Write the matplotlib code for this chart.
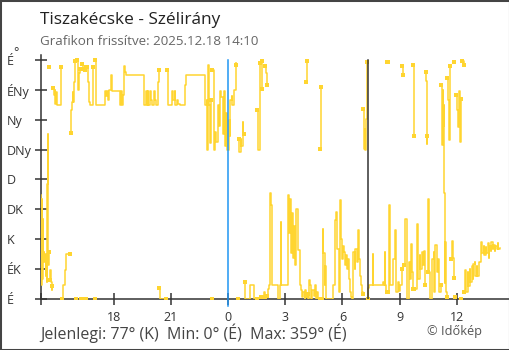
import numpy as np
import matplotlib
matplotlib.use('Agg')
import matplotlib.pyplot as plt
from matplotlib.patches import Rectangle

plt.rcParams['font.family'] = ['Open Sans', 'DejaVu Sans']

# time in hours counted from 00:00 of the previous day (24 = midnight)
hours = [
    14.19, 14.215, 14.236, 14.257, 14.278, 14.299, 14.33, 14.367, 14.404, 14.446,
    14.477, 14.509, 14.524, 14.54, 14.561, 14.587, 14.614, 14.629, 14.645, 14.676,
    14.708, 14.739, 14.771, 14.797,
    14.839, 14.876, 14.902, 14.939, 14.97, 15.007, 15.049, 15.259,
    15.295, 15.348, 15.437, 15.505, 15.731,
    15.746, 15.778, 15.82, 15.862, 15.893, 15.925, 15.961,
    16.03, 16.082, 16.113, 16.161, 16.213, 16.292, 16.36, 16.397, 16.449, 16.486,
    16.533, 16.58, 16.622, 16.675, 16.711, 16.753, 16.895, 16.921, 17.01, 17.042,
    17.089, 17.535, 17.561, 17.603, 17.655, 17.708, 17.76, 17.839, 17.907, 18.337,
    18.389, 18.442, 18.494, 18.547, 18.599, 18.636, 19.611, 19.674, 19.727, 19.779,
    19.831, 19.91, 19.963, 20.041, 20.12, 20.172, 20.225, 20.345, 20.382,
    20.403, 20.434, 20.775,
    20.796, 20.828, 20.88, 21.011, 21.064, 21.142, 21.195, 21.247, 21.326, 21.378,
    21.457, 21.745, 21.798, 22.778, 22.794, 22.873, 22.899, 22.951, 23.004, 23.056,
    23.109, 23.151,
    23.177, 23.24, 23.319, 23.397, 23.46, 23.518, 23.555, 23.607, 23.659, 23.722,
    23.791, 23.843, 23.895, 23.974, 24.027, 24.079, 24.131, 24.184, 24.236, 24.315,
    24.394, 24.446, 24.525,
    24.567, 24.603, 24.656, 24.708, 24.761, 24.813, 24.839,
    24.866, 24.908, 25.17, 25.259, 25.338, 25.521,
    25.537, 25.59, 25.668, 25.721, 25.768, 25.783, 25.825, 25.888, 25.941,
    25.956, 25.993, 26.03,
    26.045, 26.098, 26.15, 26.229, 26.271, 26.307, 26.57, 26.622, 26.701, 26.727,
    26.764, 26.79, 27.094, 27.147, 27.199, 27.251, 27.304, 27.356, 27.409, 27.461,
    27.514, 27.566, 27.645, 27.776, 27.854, 27.907, 27.959, 28.012, 28.064, 28.09,
    28.106, 28.132, 28.158,
    28.185, 28.221, 28.248, 28.3, 28.379, 28.431, 28.51, 28.588, 28.641, 28.693,
    28.746, 28.814,
    28.825, 28.861, 28.893,
    28.909, 28.956, 29.008, 29.061, 29.113, 29.139, 29.454, 29.506, 29.611, 29.664,
    29.742, 29.795, 29.873, 29.926, 29.978, 30.031, 30.083, 30.136, 30.188, 30.24,
    30.293, 30.345, 30.398, 30.45, 30.503, 30.555, 30.634, 30.686, 30.739, 30.818,
    30.87, 30.922, 30.975, 31.027, 31.08,
    31.096, 31.132, 31.159, 31.185, 31.211, 31.237, 31.264, 31.3,
    31.316, 31.342, 31.394, 31.578, 31.604, 32.024, 32.103, 32.181, 32.208, 32.234,
    32.286, 32.328,
    32.339, 32.391,
    32.407, 32.428, 32.47, 32.653, 32.679, 32.732, 32.758, 32.81, 32.889, 32.968,
    33.02, 33.099,
    33.136, 33.193,
    33.23, 33.298, 33.361, 33.466, 33.544, 33.597, 33.649, 33.702,
    33.717, 33.744,
    33.77, 33.896, 33.938, 33.99, 34.043, 34.095, 34.148, 34.2, 34.253, 34.315,
    34.368, 34.399, 34.425, 34.451,
    34.478, 34.504, 34.541, 34.619, 34.672, 34.724, 34.777, 34.829, 34.881, 34.96,
    35.013, 35.065, 35.144,
    35.17, 35.212, 35.249, 35.285, 35.317, 35.343, 35.359, 35.38, 35.432, 35.484,
    35.5, 35.537, 35.589, 35.626, 35.658,
    35.684, 35.747, 35.799, 35.852,
    35.867, 35.92, 35.957, 36.009, 36.062, 36.114, 36.167, 36.193, 36.235, 36.287,
    36.361,
    36.376, 36.429, 36.507, 36.56, 36.612, 36.665, 36.717, 36.77, 36.822, 36.874,
    36.927, 36.979, 37.032, 37.084, 37.137, 37.215, 37.283, 37.346, 37.399, 37.451,
    37.504, 37.556, 37.609, 37.661, 37.713, 37.766, 37.818, 37.871, 37.923, 37.976,
    38.028, 38.081, 38.133, 38.185, 38.248,
]

# wind direction in degrees
direction = [
    157, 21, 150, 30, 120, 60, 71, 56, 68, 35,
    60, 26, 173, 248, 89, 51, 71, 350, 29, 44,
    35, 26, 14, 20,
    318, 307, 315, 294, 312, 294, 292, 350,
    0, 21, 44, 68, 68,
    250, 285, 297, 312, 297, 327, 358,
    0, 360, 315, 340, 347, 0, 354, 347, 0, 345,
    350, 0, 350, 327, 297, 292, 292, 350, 0, 360,
    292, 292, 313, 305, 313, 300, 315, 337, 314, 292,
    314, 292, 308, 351, 342, 338, 292, 314, 292, 314,
    292, 314, 300, 292, 314, 300, 292, 327, 345,
    16, 0, 0,
    345, 307, 292, 292, 314, 300, 314, 292, 300, 294,
    292, 323, 338, 338, 292, 300, 224, 353, 292, 235,
    300, 0,
    345, 224, 251, 236, 292, 260, 300, 314, 304, 248,
    314, 230, 280, 224, 270, 245, 300, 305, 292, 315,
    355, 352, 0,
    241, 221, 241, 230, 266, 248, 249,
    25, 0, 21, 21, 0, 0,
    285, 224, 356, 3, 316, 359, 3, 10, 3,
    351, 341, 322,
    5, 15, 21, 159, 142, 21, 21, 0, 0, 21,
    116, 21, 21, 157, 100, 150, 70, 130, 62, 110,
    51, 135, 74, 21, 14, 3, 10, 0, 14, 5,
    327, 342, 358,
    8, 0, 29, 21, 0, 14, 5, 21, 0, 10,
    0, 0,
    226, 271, 319,
    0, 106, 70, 21, 50, 0, 0, 21, 119, 131,
    75, 11, 149, 90, 60, 80, 71, 51, 66, 45,
    60, 30, 10, 3, 0, 71, 45, 75, 56, 104,
    60, 35, 21, 10, 7,
    286, 226, 256, 224, 250, 271, 344, 357,
    0, 16, 21, 68, 21, 21, 25, 21, 71, 21,
    12, 10,
    357, 357,
    10, 141, 21, 21, 60, 89, 104, 10, 25, 12,
    21, 45,
    351, 338,
    51, 121, 0, 56, 30, 83, 40, 15,
    353, 245,
    15, 113, 60, 30, 66, 45, 71, 51, 73, 21,
    342, 329, 233, 246,
    41, 151, 41, 0, 10, 60, 71, 11, 81, 40,
    60, 11, 21,
    322, 232, 315, 260, 292, 160, 24, 86, 10, 3,
    333, 300, 240, 330, 351,
    60, 88, 62, 31,
    357, 3, 307, 285, 259, 314, 236, 301, 0, 358,
    352,
    11, 43, 10, 40, 20, 45, 25, 50, 30, 52,
    56, 35, 50, 35, 56, 56, 86, 70, 80, 66,
    78, 70, 84, 62, 80, 72, 86, 76, 82, 72,
    80, 76, 84, 76, 77,
]

y_ticks = [0, 45, 90, 135, 180, 225, 270, 315, 360]
y_labels = ['É', 'ÉK', 'K', 'DK', 'D', 'DNy', 'Ny', 'ÉNy', 'É']
x_ticks = [14.194, 18, 21, 24, 27, 30, 33, 36]
x_labels = ['', '18', '21', '0', '3', '6', '9', '12']
midnight = 24
sunrise = 31.34

yellow = '#FFD530'
dark = '#333333'

t = np.array(hours)
d = np.array(direction, dtype=float)

# break the line where the direction wraps around north
jump = np.abs(np.diff(d)) > 180
starts = np.r_[0, np.where(jump)[0] + 1]
ends = np.r_[np.where(jump)[0], len(d) - 1]

fig = plt.figure(figsize=(5.1, 3.5), dpi=100)
ax = fig.add_axes([41 / 510, 1 - 299 / 350, 468 / 510, 244 / 350])

for s, e in zip(starts, ends):
    ax.plot(t[s:e + 1], d[s:e + 1], drawstyle='steps-post', color=yellow, lw=1.1, zorder=3)

mk = np.r_[starts[1:], ends[:-1]]
ax.plot(t[mk], d[mk], 's', color=yellow, ms=2.6, mew=0, zorder=3)

ax.plot([midnight, midnight], [-10.5, 360], color='#2196F3', lw=1.1, zorder=4, clip_on=False)
ax.plot([sunrise, sunrise], [0, 360], color=dark, lw=1.1, zorder=4)

ax.set_xlim(14.194, 38.736)
ax.set_ylim(0, 367.5)
ax.set_xticks(x_ticks)
ax.set_xticklabels(x_labels)
ax.set_yticks(y_ticks)
ax.set_yticklabels(y_labels)
for lbl in ax.get_yticklabels():
    lbl.set_horizontalalignment('left')

ax.tick_params(axis='both', direction='inout', length=8.6, width=1.1, color=dark,
               labelcolor=dark, labelsize=9)
ax.tick_params(axis='y', pad=20.2)
ax.tick_params(axis='x', pad=4.2)
for side in ['top', 'right']:
    ax.spines[side].set_visible(False)
for side in ['left', 'bottom']:
    ax.spines[side].set_color(dark)
    ax.spines[side].set_linewidth(1.1)

fig.text(40 / 510, 1 - 19.5 / 350, 'Tiszakécske - Szélirány', fontsize=12.4,
         color='#222222', va='center', ha='left')
fig.text(40 / 510, 1 - 41.5 / 350, 'Grafikon frissítve: 2025.12.18 14:10', fontsize=9.6,
         color='#666666', va='center', ha='left')
fig.text(13 / 510, 1 - 53 / 350, '°', fontsize=9, color=dark, va='center', ha='left')
fig.text(40 / 510, 1 - 333.5 / 350, 'Jelenlegi: 77° (K)  Min: 0° (É)  Max: 359° (É)',
         fontsize=11.5, color='#444444', va='center', ha='left')
fig.text(482 / 510, 1 - 332 / 350, '© Időkép', fontsize=9.2, color='#555555',
         va='center', ha='right')

fig.add_artist(Rectangle((0, 0), 1, 1, transform=fig.transFigure, fill=False,
                         ec='#444444', lw=2.2))

fig.savefig('out.png', dpi=100)
